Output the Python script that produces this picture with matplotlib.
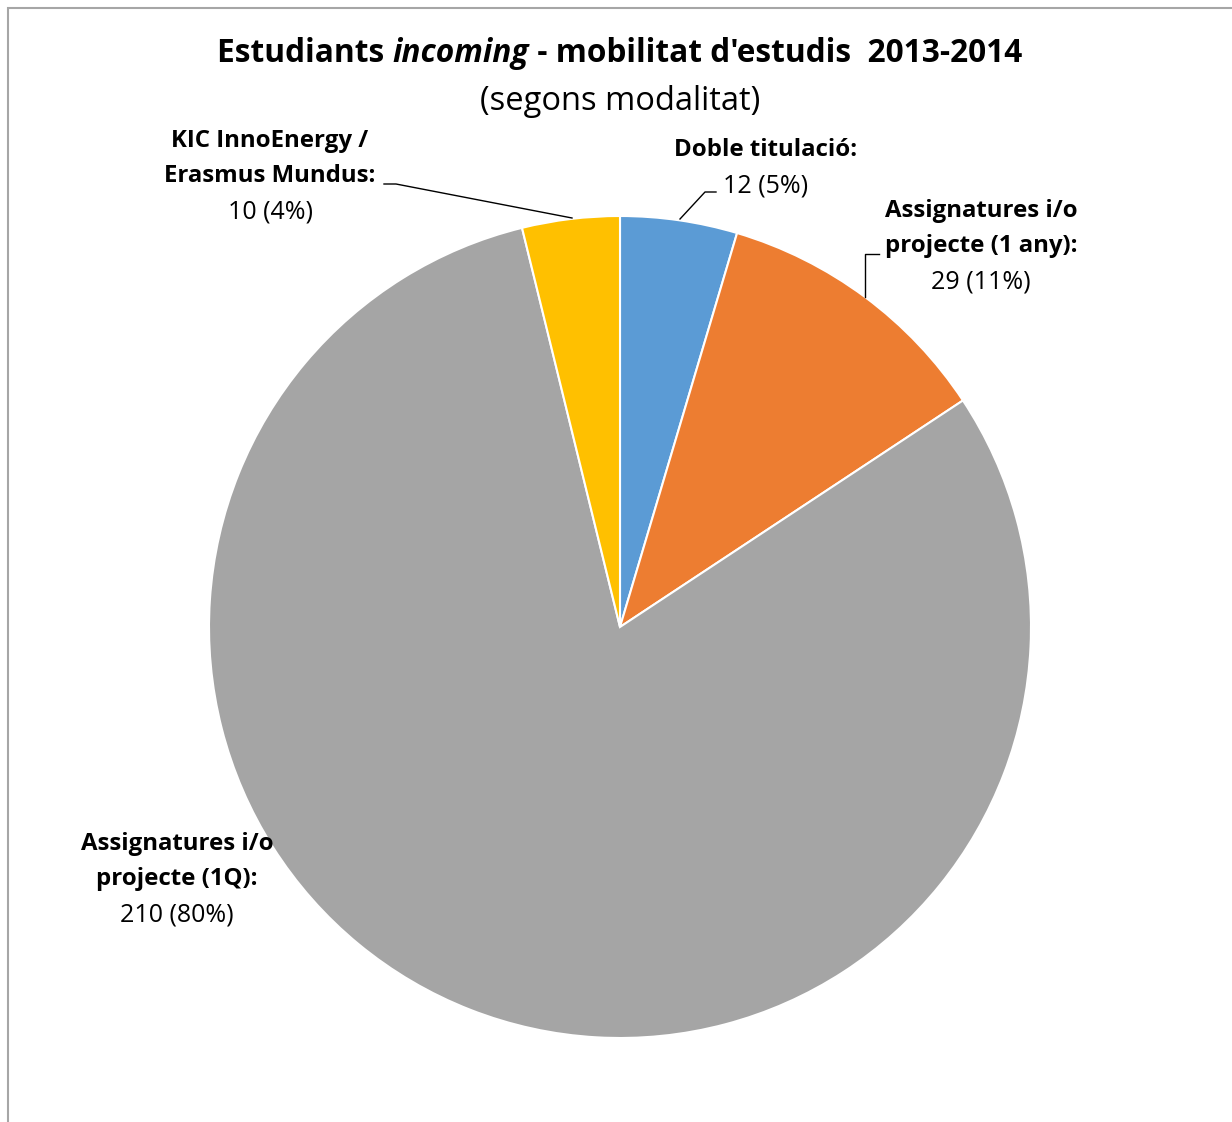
import matplotlib
matplotlib.use("Agg")
import matplotlib.pyplot as plt
from matplotlib.patches import Rectangle

categories = ["Doble titulació", "Assignatures i/o projecte (1 any)",
              "Assignatures i/o projecte (1Q)", "KIC InnoEnergy / Erasmus Mundus"]
label_names = ["Doble titulació:", "Assignatures i/o\nprojecte (1 any):",
               "Assignatures i/o\nprojecte (1Q):", "KIC InnoEnergy /\nErasmus Mundus:"]
values = [12, 29, 210, 10]
percents = [5, 11, 80, 4]
colors = ["#5B9BD5", "#ED7D31", "#A5A5A5", "#FFC000"]

FONT = "Open Sans"
W, H = 1232, 1122
fig = plt.figure(figsize=(W / 100, H / 100), dpi=100)
fig.patch.set_facecolor("white")

# chart frame
fig.patches.append(Rectangle((8 / W, -0.1), 1.2, 1 - 8 / H + 0.1, transform=fig.transFigure,
                             fill=False, edgecolor="#A6A6A6", linewidth=1.5))

cx, cy, R = 620, 627, 411
ax = fig.add_axes([(cx - R) / W, (H - cy - R) / H, 2 * R / W, 2 * R / H])
ax.pie(values, colors=colors, startangle=90, counterclock=False, radius=1,
       wedgeprops=dict(edgecolor="white", linewidth=1.5))
ax.set_xlim(-1, 1)
ax.set_ylim(-1, 1)
ax.set_aspect("equal")
ax.axis("off")

def d(px, py):
    return ((px - cx) / R, (cy - py) / R)

fs_b = 17.3
fs_n = 18.0
lab_pos = [(766, 150, 186), (981, 211, 282), (177, 844, 915), (270, 141, 212)]
line_gap = 35
for i, (x, y_top, y_val) in enumerate(lab_pos):
    names = label_names[i].split("\n")
    for k, nm in enumerate(names):
        ax.text(*d(x, y_top + k * line_gap), nm, ha="center", va="center",
                fontsize=fs_b, fontweight="bold", family=FONT, clip_on=False)
    ax.text(*d(x, y_val), f"{values[i]} ({percents[i]}%)", ha="center", va="center",
            fontsize=fs_n, family=FONT, clip_on=False)

# leader lines
leaders = [
    [(680, 219), (705, 192), (716, 192)],
    [(865, 297), (865, 254), (879, 254)],
    [(572, 218), (396, 184), (384, 184)],
]
for pts in leaders:
    xs, ys = zip(*[d(*p) for p in pts])
    ax.plot(xs, ys, color="black", linewidth=1.0, clip_on=False)

# title with mixed style
fig.canvas.draw()
renderer = fig.canvas.get_renderer()
parts = [("Estudiants ", "normal", "bold"), ("incoming", "italic", "bold"),
         (" - mobilitat d'estudis  2013-2014", "normal", "bold")]
tfs = 22.8
texts = []
for s, st, wt in parts:
    t = fig.text(0, 1 - 54 / H, s, fontsize=tfs, fontstyle=st, fontweight=wt,
                 family=FONT, va="center", ha="left")
    texts.append(t)
widths = [t.get_window_extent(renderer).width for t in texts]
total = sum(widths)
start = 620 - total / 2
for t, w in zip(texts, widths):
    t.set_x(start / W)
    start += w
fig.text(620 / W, 1 - 101 / H, "(segons modalitat)", fontsize=23.5, family=FONT,
         ha="center", va="center")

fig.savefig("out.png", dpi=100, facecolor="white")
